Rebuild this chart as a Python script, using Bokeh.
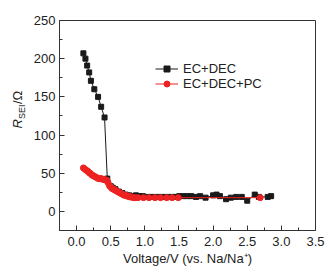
import math
from bokeh.plotting import figure
from bokeh.layouts import row
from bokeh.models import Range1d, FixedTicker, Label, Legend, LegendItem
from bokeh.embed import file_html
from bokeh.resources import INLINE

# ---- data ----
ec_dec_v = [0.10, 0.13, 0.155, 0.185, 0.21, 0.26, 0.315, 0.36, 0.41, 0.45,
            0.50, 0.53, 0.57, 0.62, 0.67, 0.72, 0.77, 0.82, 0.87, 0.92, 0.97,
            1.05, 1.12, 1.19, 1.26, 1.33, 1.40, 1.45,
            1.505, 1.56, 1.62, 1.68, 1.75, 1.81, 1.89, 2.00, 2.05, 2.10, 2.19,
            2.26, 2.34, 2.42, 2.50, 2.61, 2.67, 2.80, 2.85]
ec_dec_r = [207, 200, 191, 182, 171, 160, 150, 137, 123, 43,
            33, 31, 29, 26, 24, 22, 21, 20, 21, 20, 20,
            19, 19, 19, 19, 19, 19, 19,
            20, 20, 20, 20, 19, 20, 18, 21, 22, 20, 16,
            18, 19, 19, 14, 22, 19, 19, 20]

ec_dec_pc_v = [0.10, 0.12, 0.14, 0.16, 0.18, 0.20, 0.22, 0.24, 0.26, 0.28,
               0.30, 0.32, 0.34, 0.36, 0.38, 0.40, 0.42, 0.44, 0.46, 0.48,
               0.50, 0.52, 0.54, 0.56, 0.58, 0.60, 0.62, 0.64, 0.66, 0.68,
               0.70, 0.72, 0.74, 0.76, 0.78, 0.80, 0.83, 0.86, 0.90, 0.98,
               1.06, 1.15, 1.23, 1.32, 1.40, 1.49, 2.69]
ec_dec_pc_r = [57, 55.5, 54, 53, 51, 50, 48, 47, 46, 45,
               44, 43, 43, 43, 42, 42, 41, 41, 38, 34,
               32, 30, 29, 28, 27, 26, 25, 24, 23, 22,
               21, 21, 20, 20, 19, 19, 18, 18, 18, 18,
               18, 18, 18, 18, 18, 18, 18]

x_ticks = [0.0, 0.5, 1.0, 1.5, 2.0, 2.5, 3.0, 3.5]
x_minor = [-0.25, 0.25, 0.75, 1.25, 1.75, 2.25, 2.75, 3.25]
y_ticks = [0, 50, 100, 150, 200, 250]
y_minor = [-25, 25, 75, 125, 175, 225]

FONT = "Liberation Sans"
TXT = "#222222"
AX = "#333333"

p = figure(width=300, height=278, output_backend="svg", toolbar_location=None,
           x_range=Range1d(-0.25, 3.5), y_range=Range1d(-25, 250),
           min_border_left=27, min_border_right=15, min_border_top=20,
           min_border_bottom=48)
p.grid.visible = False
p.outline_line_color = AX
p.outline_line_width = 1
p.background_fill_color = "white"
p.border_fill_color = "white"

for ax in (p.xaxis[0], p.yaxis[0]):
    ax.axis_line_color = AX
    ax.major_tick_line_color = AX
    ax.minor_tick_line_color = AX
    ax.major_tick_in = 5
    ax.major_tick_out = 0
    ax.minor_tick_in = 3
    ax.minor_tick_out = 0
    ax.major_label_text_font = FONT
    ax.major_label_text_font_size = "13px"
    ax.major_label_text_color = TXT

p.xaxis.ticker = FixedTicker(ticks=x_ticks, minor_ticks=x_minor)
p.yaxis.ticker = FixedTicker(ticks=y_ticks, minor_ticks=y_minor)
p.xaxis.major_label_overrides = {t: f"{t:.1f}" for t in x_ticks}
p.yaxis.major_label_overrides = {t: f"{t}" for t in y_ticks}
p.xaxis.major_label_standoff = 6
p.yaxis.major_label_standoff = 4

p.xaxis.axis_label = "Voltage/V (vs. Na/Na\u207a)"
p.xaxis.axis_label_text_font = FONT
p.xaxis.axis_label_text_font_size = "13px"
p.xaxis.axis_label_text_font_style = "normal"
p.xaxis.axis_label_text_color = TXT
p.xaxis.axis_label_standoff = 2

# series
l1 = p.line(ec_dec_v, ec_dec_r, line_color="#1a1a1a", line_width=1)
s1 = p.scatter(ec_dec_v, ec_dec_r, marker="square", size=5,
               fill_color="#1a1a1a", line_color="#1a1a1a")
l2 = p.line(ec_dec_pc_v, ec_dec_pc_r, line_color="#ee2222", line_width=1)
s2 = p.scatter(ec_dec_pc_v, ec_dec_pc_r, marker="circle", size=6,
               fill_color="#ee2222", line_color="#ee2222")

legend = Legend(items=[LegendItem(label="EC+DEC", renderers=[l1, s1]),
                       LegendItem(label="EC+DEC+PC", renderers=[l2, s2])],
                location=(96, 139), orientation="vertical",
                border_line_color=None, background_fill_alpha=0,
                padding=0, margin=0, spacing=0,
                label_text_font=FONT, label_text_font_size="13px",
                label_text_color=TXT, label_height=15, glyph_height=15,
                glyph_width=23, label_standoff=5)
p.add_layout(legend, "center")

# narrow panel holding the y-axis label R_SEI/Ω
lp = figure(width=30, height=278, output_backend="svg", toolbar_location=None,
            x_range=Range1d(0, 30), y_range=Range1d(0, 278),
            x_axis_location=None, y_axis_location=None,
            min_border=0)
lp.grid.visible = False
lp.outline_line_color = None
lp.background_fill_color = "white"
lp.border_fill_color = "white"

lab_kw = dict(x_units="screen", y_units="screen", angle=math.pi / 2,
              text_align="left", text_baseline="middle",
              text_font=FONT, text_color=TXT)
lp.add_layout(Label(x=17, y=102, text="R", text_font_size="13px",
                    text_font_style="italic", **lab_kw))
lp.add_layout(Label(x=21, y=111.5, text="SEI", text_font_size="9px", **lab_kw))
lp.add_layout(Label(x=17, y=126.5, text="/\u03a9", text_font_size="13px", **lab_kw))

layout = row(lp, p, spacing=0)
open("out.html", "w").write(file_html(layout, INLINE))
